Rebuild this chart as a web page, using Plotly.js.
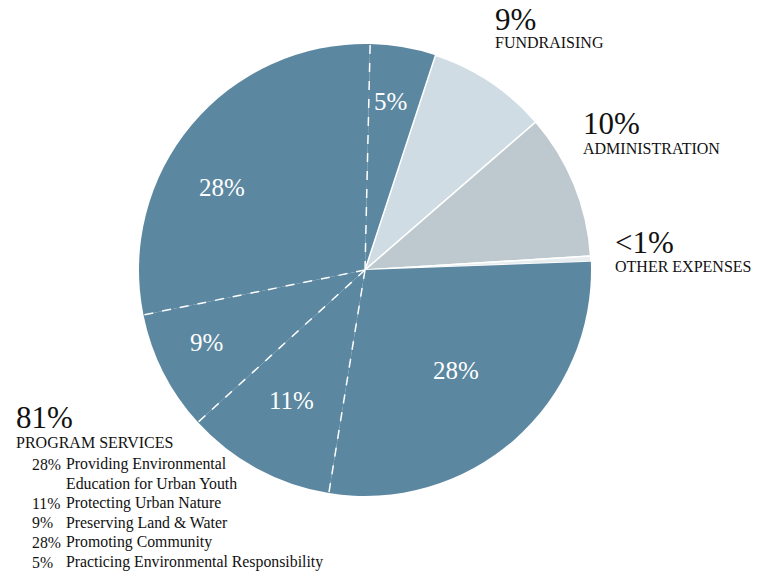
<!DOCTYPE html>
<html>
<head>
<meta charset="utf-8">
<script src="https://cdn.plot.ly/plotly-3.0.1.min.js"></script>
<style>html,body{margin:0;padding:0;background:#fff;}#chart{width:768px;height:571px;}</style>
</head>
<body>
<div id="chart"></div>
<script>
// Slice data (clockwise from top)
var sliceLabels = ["Practicing Environmental Responsibility", "Fundraising", "Administration", "Other Expenses",
                   "Promoting Community", "Protecting Urban Nature", "Preserving Land & Water",
                   "Providing Environmental Education for Urban Youth"];
var sliceValues = [4.7, 8.6, 10.4, 0.4, 28.2, 10.7, 8.6, 28.6];
var sliceText = ["5%", "", "", "", "28%", "11%", "9%", "28%"];
var isProgram = [true, false, false, false, true, true, true, true];

// Outside category labels
var groupPct = ["9%", "10%", "<1%", "81%"];
var groupNames = ["FUNDRAISING", "ADMINISTRATION", "OTHER EXPENSES", "PROGRAM SERVICES"];

// Program services breakdown list
var programPct = ["28%", "", "11%", "9%", "28%", "5%"];
var programItems = ["Providing Environmental", "Education for Urban Youth", "Protecting Urban Nature",
                    "Preserving Land & Water", "Promoting Community", "Practicing Environmental Responsibility"];

// Layout (pixel positions of text labels)
var W = 768, H = 571;
var cxPx = 365, cyPx = 270, rPx = 226;
var rotation = 1.3;
var insideLabelPos = [[390, 101], null, null, null, [456, 370], [291, 400], [206, 342], [222, 188]];
var bigPos = [[493, 19], [581, 124], [613, 243], [14, 417]];
var namePos = [[493, 43], [581, 148], [613, 266], [14, 442]];
var listTop = 464, listStep = 19.6, pctX = 30, itemX = 64;

var blue = "#5b87a0";
var colors = [blue, "#cfdce4", "#bec9cf", "#e8edf0", blue, blue, blue, blue];
var font = "'Liberation Serif', 'DejaVu Serif', serif";

var trace = {
  type: "pie",
  labels: sliceLabels,
  values: sliceValues,
  textinfo: "none",
  sort: false,
  direction: "clockwise",
  rotation: rotation,
  hoverinfo: "none",
  marker: {colors: colors, line: {color: "#ffffff", width: isProgram.map(function(p){ return p ? 0 : 1.5; })}},
  domain: {x: [(cxPx - rPx) / W, (cxPx + rPx) / W], y: [1 - (cyPx + rPx) / H, 1 - (cyPx - rPx) / H]},
  showlegend: false
};

// Dashed separators between consecutive program slices, from data
var total = sliceValues.reduce(function(a, b){ return a + b; }, 0);
var shapes = [];
var cum = 0;
for (var i = 0; i < sliceValues.length; i++) {
  var prev = (i - 1 + sliceValues.length) % sliceValues.length;
  if (isProgram[i] && isProgram[prev]) {
    var a = (rotation + 360 * cum / total) * Math.PI / 180;
    shapes.push({
      type: "line", xref: "paper", yref: "paper",
      x0: cxPx / W, y0: 1 - cyPx / H,
      x1: (cxPx + rPx * Math.sin(a)) / W, y1: 1 - (cyPx - rPx * Math.cos(a)) / H,
      line: {color: "#ffffff", width: 1.5, dash: "dash"}
    });
  }
  cum += sliceValues[i];
}

var annotations = [];
function ann(text, xpx, ypx, size, color, xanchor) {
  annotations.push({text: text, xref: "paper", yref: "paper", x: xpx / W, y: 1 - ypx / H,
    xanchor: xanchor || "left", yanchor: "middle", showarrow: false, align: "left",
    font: {family: font, size: size, color: color || "#111111"}});
}
for (var s = 0; s < sliceText.length; s++) {
  if (sliceText[s] && insideLabelPos[s]) ann(sliceText[s], insideLabelPos[s][0], insideLabelPos[s][1], 25, "#ffffff", "center");
}
for (var g = 0; g < groupPct.length; g++) {
  ann(groupPct[g], bigPos[g][0], bigPos[g][1], 31);
  ann(groupNames[g], namePos[g][0], namePos[g][1], 16);
}
for (var k = 0; k < programItems.length; k++) {
  var yb = listTop + k * listStep;
  if (programPct[k]) ann(programPct[k], pctX, yb, 15.8);
  ann(programItems[k], itemX, yb, 15.8);
}

var layout = {
  width: W, height: H,
  margin: {l: 0, r: 0, t: 0, b: 0},
  paper_bgcolor: "#ffffff",
  plot_bgcolor: "#ffffff",
  font: {family: font},
  shapes: shapes,
  annotations: annotations,
  showlegend: false
};

Plotly.newPlot("chart", [trace], layout, {displayModeBar: false, staticPlot: true});
</script>
</body>
</html>
